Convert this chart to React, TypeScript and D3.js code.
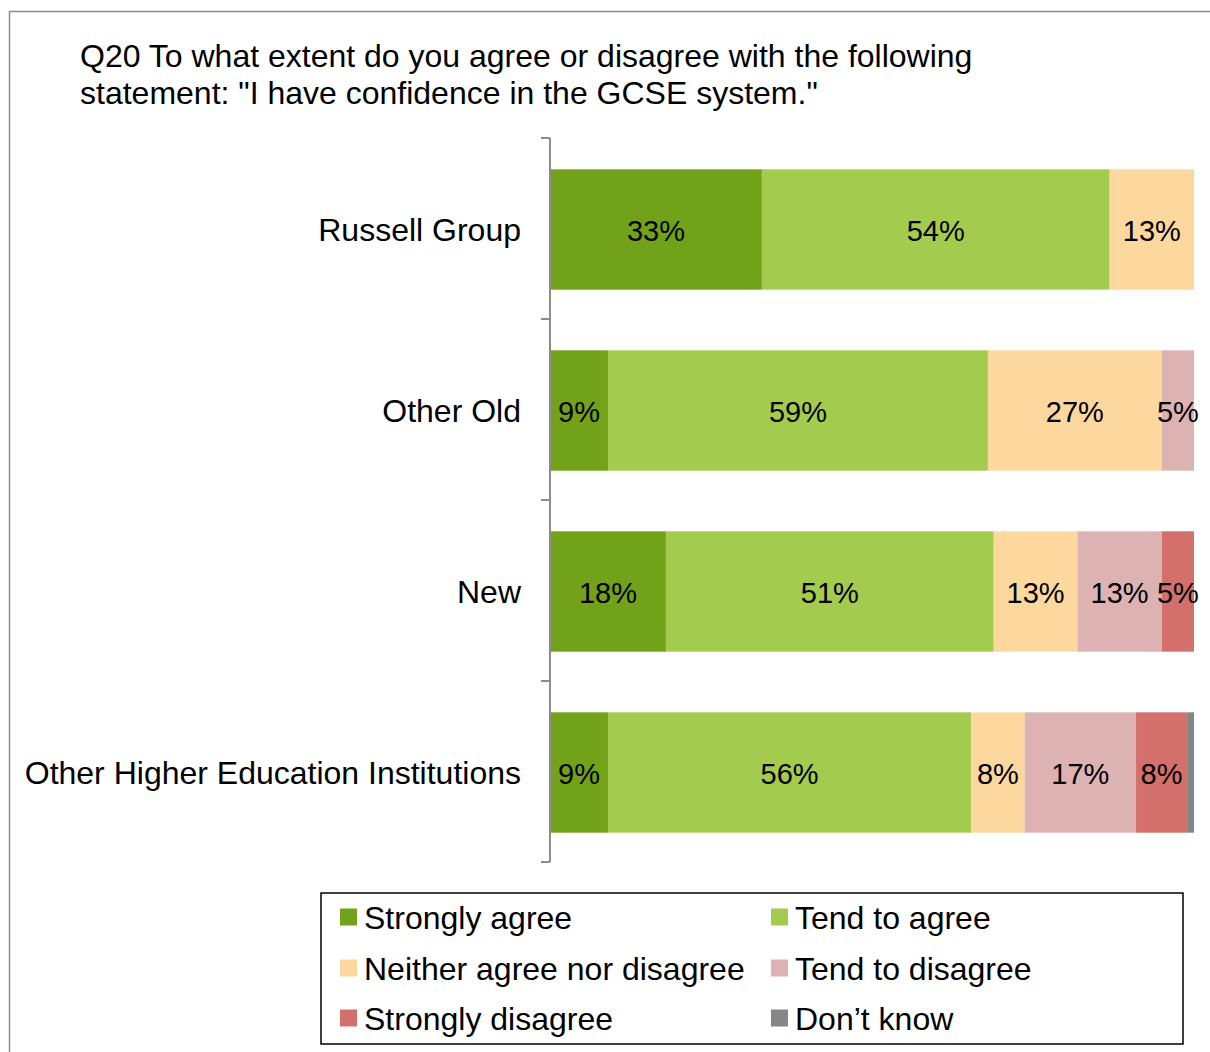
import React from "react";
import * as d3 from "d3";

const categories = ["Russell Group", "Other Old", "New", "Other Higher Education Institutions"];
const seriesNames = ["Strongly agree", "Tend to agree", "Neither agree nor disagree", "Tend to disagree", "Strongly disagree", "Don’t know"];
const seriesColors = ["#72A219", "#A3CC4F", "#FDD89E", "#DCB3B2", "#D4706B", "#858688"];
const stronglyAgree = [32.9, 9, 18, 9];
const tendToAgree = [54, 59, 50.9, 56.4];
const neither = [13.1, 27, 13, 8.3];
const tendToDisagree = [0, 5, 13.1, 17.3];
const stronglyDisagree = [0, 0, 5, 7.9];
const dontKnow = [0, 0, 0, 1.1];
const titleLines = [
  "Q20 To what extent do you agree or disagree with the following",
  "statement: \"I have confidence in the GCSE system.\"",
];

const FONT = "Liberation Sans, Arial, sans-serif";

export default function App() {
  const W = 1210, H = 1052;
  const x0 = 550, x1 = 1194, yTop = 138, yBot = 862;
  const series = [stronglyAgree, tendToAgree, neither, tendToDisagree, stronglyDisagree, dontKnow];
  const rows = categories.map((c, i) => {
    const o: any = { cat: c };
    series.forEach((s, j) => (o[seriesNames[j]] = s[i]));
    return o;
  });
  const stack = d3.stack<any>().keys(seriesNames)(rows);
  const x = d3.scaleLinear().domain([0, 100]).range([x0, x1]);
  const y = d3.scaleBand().domain(categories).range([yTop, yBot]).paddingInner(0.335).paddingOuter(0.1675);
  const band = d3.scaleBand().domain(categories).range([yTop, yBot]);
  const ticks = d3.range(categories.length + 1).map((i) => yTop + i * band.step());

  const legendX = 321, legendY = 893, legendW = 862, legendH = 151;
  const legendCols = [340, 771];
  const legendRows = [917, 968, 1018];

  return (
    <svg width={W} height={H} style={{ position: "absolute", left: 0, top: 0, background: "#fff" }} fontFamily={FONT}>
      <rect x={0} y={0} width={W} height={H} fill="#fff" />
      <path d={`M9.5,${H} V11.5 H${W}`} fill="none" stroke="#8c8c8c" strokeWidth={1.5} />
      {titleLines.map((t, i) => (
        <text key={i} x={80} y={67 + i * 37} fontSize={32} fill="#000">{t}</text>
      ))}
      {stack.map((layer, j) => (
        <g key={j} fill={seriesColors[j]}>
          {layer.map((d, i) => {
            const w = x(d[1]) - x(d[0]);
            if (w <= 0) return null;
            return <rect key={i} x={x(d[0])} y={(y(categories[i]) as number) + 1} width={w} height={y.bandwidth()} />;
          })}
        </g>
      ))}
      {stack.map((layer, j) => (
        <g key={"l" + j}>
          {layer.map((d, i) => {
            const v = d[1] - d[0];
            if (v < 2) return null;
            return (
              <text key={i} x={(x(d[0]) + x(d[1])) / 2} y={(y(categories[i]) as number) + y.bandwidth() / 2 + 2}
                textAnchor="middle" dominantBaseline="central" fontSize={29} fill="#000">
                {Math.round(v) + "%"}
              </text>
            );
          })}
        </g>
      ))}
      <g stroke="#8c8c8c" strokeWidth={2}>
        <line x1={x0} x2={x0} y1={yTop} y2={yBot} />
        {ticks.map((t, i) => (
          <line key={i} x1={541} x2={x0} y1={t} y2={t} />
        ))}
      </g>
      {categories.map((c) => (
        <text key={c} x={521} y={(band(c) as number) + band.bandwidth() / 2 + 1} textAnchor="end"
          dominantBaseline="central" fontSize={32} fill="#000">{c}</text>
      ))}
      <rect x={legendX} y={legendY} width={legendW} height={legendH} fill="#fff" stroke="#000" strokeWidth={1.5} />
      {seriesNames.map((n, j) => {
        const cx = legendCols[j % 2];
        const cy = legendRows[Math.floor(j / 2)];
        return (
          <g key={n}>
            <rect x={cx} y={cy - 8.5} width={17} height={17} fill={seriesColors[j]} />
            <text x={cx + 24} y={cy + 1} dominantBaseline="central" fontSize={32} fill="#000">{n}</text>
          </g>
        );
      })}
    </svg>
  );
}
